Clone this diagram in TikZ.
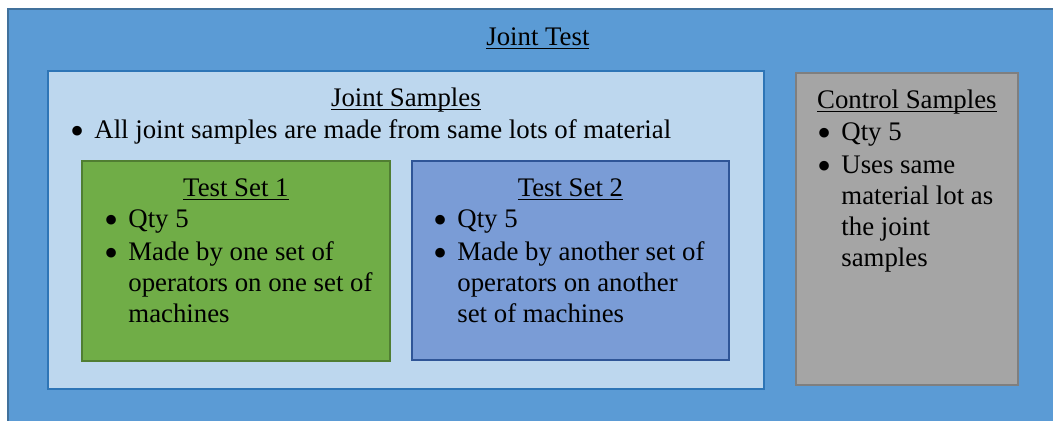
\documentclass[tikz,border=0pt]{standalone}
\usepackage{fontspec}
\usepackage{graphicx}
\setmainfont{Liberation Serif}
\usetikzlibrary{positioning}
\definecolor{testblue}{HTML}{5B9BD5}
\definecolor{testline}{HTML}{41719C}
\definecolor{jointfill}{HTML}{BDD7EE}
\definecolor{jointline}{HTML}{2E75B6}
\definecolor{setonefill}{HTML}{70AD47}
\definecolor{setoneline}{HTML}{507E32}
\definecolor{settwofill}{HTML}{7A9CD6}
\definecolor{settwoline}{HTML}{2F5597}
\definecolor{ctrlfill}{HTML}{A5A5A5}
\definecolor{ctrlline}{HTML}{7F7F7F}
\newcommand{\boxfont}{\fontsize{13.4}{15.5}\selectfont}
\newcommand{\ultitle}[1]{\strut\underline{\smash{#1}}}
\newcommand{\bul}[1]{\par\hangindent=12pt\hangafter=1\noindent
  \makebox[12pt][l]{\raisebox{-2.6pt}{\scalebox{1.5}{\textbullet}}}#1}
\newcommand{\blist}[2]{\parbox[t]{#1}{\raggedright\setlength{\parskip}{1pt}#2}}
\begin{document}
\begin{tikzpicture}[x=0.5pt,y=-0.5pt,
    box/.style={draw,line width=0.9pt,anchor=north west,inner sep=0pt},
    ttl/.style={anchor=base,inner sep=0pt,font=\boxfont},
    lst/.style={anchor=base west,inner sep=0pt,font=\boxfont}]
  \useasboundingbox (0,0) rectangle (1053,421);
  \clip (0,0) rectangle (1053,421);

  \node[box,fill=testblue,draw=testline,minimum width=530pt,minimum height=220pt] (test) at (7,8) {};
  \node[box,fill=jointfill,draw=jointline,minimum width=358pt,minimum height=159pt] (joint) at (47,70) {};
  \node[box,fill=setonefill,draw=setoneline,minimum width=154pt,minimum height=100pt] (setone) at (81,160) {};
  \node[box,fill=settwofill,draw=settwoline,minimum width=158.5pt,minimum height=99.5pt] (settwo) at (411,160) {};
  \node[box,fill=ctrlfill,draw=ctrlline,minimum width=111pt,minimum height=156pt] (ctrl) at (795,72) {};

  \node[ttl] (testt) at ([yshift=-19pt]test.north) {\ultitle{Joint Test}};

  \node[ttl] (jointt) at ([yshift=-18.5pt]joint.north) {\ultitle{Joint Samples}};
  \node[lst] (jointl) at ([xshift=11.5pt,yshift=-16pt]joint.west |- jointt.base)
    {\blist{340pt}{\bul{All joint samples are made from same lots of material}}};

  \node[ttl] (setonet) at ([yshift=-18.5pt]setone.north) {\ultitle{Test Set 1}};
  \node[lst] (setonel) at ([xshift=11.5pt,yshift=-15.5pt]setone.west |- setonet.base)
    {\blist{140pt}{\bul{Qty 5}\bul{Made by one set of\newline operators on one set of\newline machines}}};

  \node[ttl] (settwot) at ([yshift=-18.5pt]settwo.north) {\ultitle{Test Set 2}};
  \node[lst] (settwol) at ([xshift=11pt,yshift=-15.5pt]settwo.west |- settwot.base)
    {\blist{140pt}{\bul{Qty 5}\bul{Made by another set of\newline operators on another\newline set of machines}}};

  \node[ttl] (ctrlt) at ([yshift=-18.5pt]ctrl.north) {\ultitle{Control Samples}};
  \node[lst] (ctrll) at ([xshift=11pt,yshift=-16pt]ctrl.west |- ctrlt.base)
    {\blist{95pt}{\bul{Qty 5}\bul{Uses same\newline material lot as\newline the joint\newline samples}}};
\end{tikzpicture}
\end{document}
